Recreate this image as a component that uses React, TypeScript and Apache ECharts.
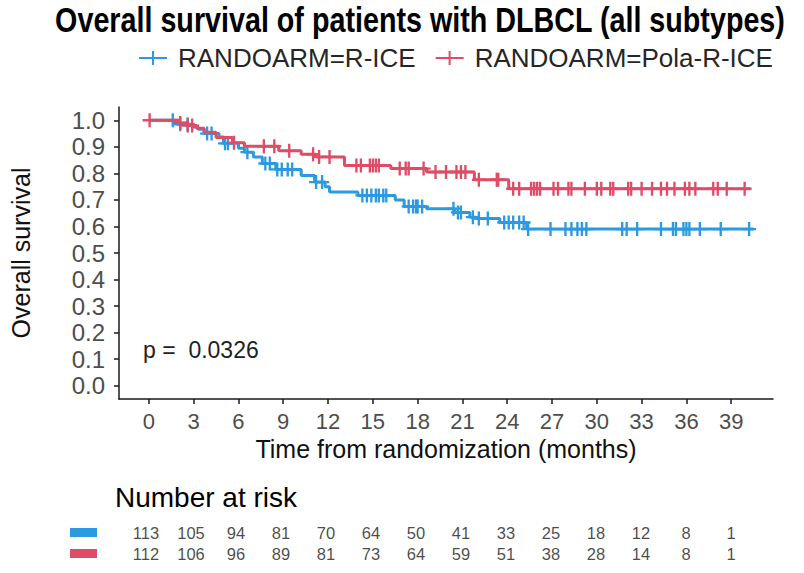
import React, { useEffect, useRef } from "react";
import * as echarts from "echarts";

// ---- data ----
const titleText = "Overall survival of patients with DLBCL (all subtypes)";
const armNames = ["RANDOARM=R-ICE", "RANDOARM=Pola-R-ICE"];
const riskRowNames = ["R-ICE", "Pola-R-ICE"];

// Kaplan-Meier steps: [time (months), survival after event]
const rIceSteps: [number, number][] = [
  [0, 1.0], [1.9, 0.985], [2.9, 0.975], [3.3, 0.966], [3.7, 0.95], [4.7, 0.937],
  [5.0, 0.913], [6.0, 0.895], [6.4, 0.88], [7.0, 0.862], [7.6, 0.837], [8.5, 0.815],
  [10.2, 0.792], [11.1, 0.767], [11.8, 0.75], [12.1, 0.73], [14.0, 0.717], [16.5, 0.7],
  [17.1, 0.675], [18.6, 0.667], [20.5, 0.653], [21.5, 0.635], [21.9, 0.63],
  [23.5, 0.615], [25.3, 0.59], [40.5, 0.59],
];
const polaSteps: [number, number][] = [
  [0, 1.0], [2.0, 0.99], [2.6, 0.98], [3.2, 0.97], [3.7, 0.955], [4.5, 0.935],
  [5.6, 0.915], [6.4, 0.902], [8.7, 0.885], [10.2, 0.872], [11.2, 0.862],
  [13.1, 0.83], [16.2, 0.818], [18.6, 0.805], [21.8, 0.776], [24.1, 0.742],
  [40.3, 0.742],
];

// censoring times
const rIceCensor = [
  1.6, 2.1, 2.6, 3.9, 4.2, 5.1, 5.3, 6.6, 7.8, 8.1, 8.6, 8.9, 9.3, 9.6, 11.2, 11.6,
  14.3, 14.6, 14.9, 15.2, 15.4, 15.7, 15.9, 17.4, 17.7, 17.9, 18.0, 18.3, 20.4, 20.7,
  20.9, 21.7, 22.1, 22.7, 23.8, 24.1, 24.4, 24.8, 25.1, 25.4, 26.9, 27.9, 28.3, 28.7,
  29.0, 29.3, 31.7, 32.0, 32.7, 34.3, 35.1, 35.3, 35.8, 36.0, 36.2, 36.9, 38.3, 40.2,
];
const polaCensor = [
  0.05, 2.1, 2.6, 2.9, 5.7, 7.7, 8.4, 9.4, 11.0, 11.4, 12.1, 13.9, 14.2, 14.8, 15.0,
  15.2, 15.4, 16.8, 17.2, 17.4, 18.4, 19.2, 19.9, 20.6, 20.9, 21.2, 22.1, 23.3, 23.4,
  24.4, 24.8, 25.6, 25.8, 26.0, 26.2, 27.1, 27.4, 28.1, 28.3, 29.2, 30.0, 30.3, 30.9,
  31.1, 32.1, 32.3, 33.0, 33.7, 34.3, 34.7, 35.2, 35.9, 36.2, 36.6, 37.8, 38.1, 38.7,
  39.9,
];

const xTicks = [0, 3, 6, 9, 12, 15, 18, 21, 24, 27, 30, 33, 36, 39];
const yTicks = [0, 0.1, 0.2, 0.3, 0.4, 0.5, 0.6, 0.7, 0.8, 0.9, 1.0];
const riskTimes = [0, 3, 6, 9, 12, 15, 18, 21, 24, 27, 30, 33, 36, 39];
const rIceRisk = [113, 105, 94, 81, 70, 64, 50, 41, 33, 25, 18, 12, 8, 1];
const polaRisk = [112, 106, 96, 89, 81, 73, 64, 59, 51, 38, 28, 14, 8, 1];
const pValueText = "p =  0.0326";

// ---- styles ----
const BLUE = "#2B9AE0";
const RED = "#DE4C65";
const FONT = "Liberation Sans, Arial, sans-serif";
const PLUS =
  "path://M-1,-6L1,-6L1,-1L6,-1L6,1L1,1L1,6L-1,6L-1,1L-6,1L-6,-1L-1,-1Z";
const LEGEND_ICON =
  "path://M0,6L13,6L13,0L15,0L15,6L28,6L28,8L15,8L15,14L13,14L13,8L0,8Z";

function survAt(steps: [number, number][], t: number): number {
  let s = steps[0][1];
  for (const [tt, v] of steps) {
    if (tt <= t) s = v;
    else break;
  }
  return s;
}

export default function App() {
  const ref = useRef<HTMLDivElement>(null);
  useEffect(() => {
    if (!ref.current) return;
    const chart = echarts.init(ref.current, undefined, { renderer: "svg" });
    const X_MIN = -2;
    const X_MAX = 41.8;
    const riskLabel = {
      show: true,
      position: "inside",
      formatter: (p: any) => String(p.value[2]),
      fontSize: 16.5,
      color: "#1a1a1a",
      fontFamily: FONT,
    };
    const option: any = {
      animation: false,
      backgroundColor: "#ffffff",
      textStyle: { fontFamily: FONT },
      legend: {
        left: 134,
        top: 40,
        itemWidth: 30,
        itemHeight: 14,
        itemGap: 20,
        textStyle: {
          fontSize: 26,
          color: "#262626",
          fontFamily: FONT,
          padding: [0, 0, 0, 5],
        },
        data: [
          { name: armNames[0], icon: LEGEND_ICON, itemStyle: { color: BLUE } },
          { name: armNames[1], icon: LEGEND_ICON, itemStyle: { color: RED } },
        ],
      },
      grid: [
        { left: 116, right: 31, top: 107, height: 292 },
        { left: 116, right: 31, top: 522, height: 42 },
      ],
      xAxis: [
        {
          type: "value",
          gridIndex: 0,
          min: X_MIN,
          max: X_MAX,
          splitLine: { show: false },
          axisLine: {
            show: true,
            onZero: false,
            lineStyle: { color: "#1a1a1a", width: 1.5 },
          },
          axisTick: {
            show: true,
            length: 5,
            customValues: xTicks,
            lineStyle: { color: "#1a1a1a", width: 1.5 },
          },
          axisLabel: {
            customValues: xTicks,
            fontSize: 22,
            color: "#4d4d4d",
            margin: 11,
            fontFamily: FONT,
          },
          name: "Time from randomization (months)",
          nameLocation: "middle",
          nameGap: 34,
          nameTextStyle: { fontSize: 25, color: "#111", fontFamily: FONT },
        },
        {
          type: "value",
          gridIndex: 1,
          min: X_MIN,
          max: X_MAX,
          show: false,
        },
      ],
      yAxis: [
        {
          type: "value",
          gridIndex: 0,
          min: -0.05,
          max: 1.05,
          splitLine: { show: false },
          axisLine: {
            show: true,
            onZero: false,
            lineStyle: { color: "#1a1a1a", width: 1.5 },
          },
          axisTick: {
            show: true,
            length: 5,
            customValues: yTicks,
            lineStyle: { color: "#1a1a1a", width: 1.5 },
          },
          axisLabel: {
            customValues: yTicks,
            formatter: (v: number) => v.toFixed(1),
            fontSize: 24,
            color: "#4d4d4d",
            margin: 14,
            fontFamily: FONT,
          },
          name: "Overall survival",
          nameLocation: "middle",
          nameGap: 86,
          nameTextStyle: { fontSize: 25, color: "#111", fontFamily: FONT },
        },
        {
          type: "category",
          gridIndex: 1,
          inverse: true,
          data: riskRowNames,
          axisLine: { show: false },
          axisTick: { show: false },
          axisLabel: {
            margin: 19,
            formatter: (_v: string, i: number) => (i === 0 ? "{b|}" : "{r|}"),
            rich: {
              b: { backgroundColor: BLUE, width: 27, height: 9 },
              r: { backgroundColor: RED, width: 27, height: 9 },
            },
          },
        },
      ],
      graphic: [
        {
          type: "text",
          x: 420,
          y: 20,
          scaleX: 0.82,
          style: {
            text: titleText,
            font: `bold 35px ${FONT}`,
            fill: "#000",
            textAlign: "center",
            textVerticalAlign: "middle",
          },
        },
        {
          type: "text",
          x: 143,
          y: 350,
          style: {
            text: pValueText,
            font: `23px ${FONT}`,
            fill: "#222",
            textAlign: "left",
            textVerticalAlign: "middle",
          },
        },
        {
          type: "text",
          x: 115,
          y: 497,
          style: {
            text: "Number at risk",
            font: `28px ${FONT}`,
            fill: "#000",
            textAlign: "left",
            textVerticalAlign: "middle",
          },
        },
      ],
      series: [
        {
          name: armNames[0],
          type: "line",
          step: "end",
          xAxisIndex: 0,
          yAxisIndex: 0,
          symbol: "none",
          lineStyle: { color: BLUE, width: 3 },
          itemStyle: { color: BLUE },
          data: rIceSteps,
          z: 3,
        },
        {
          name: armNames[1],
          type: "line",
          step: "end",
          xAxisIndex: 0,
          yAxisIndex: 0,
          symbol: "none",
          lineStyle: { color: RED, width: 3 },
          itemStyle: { color: RED },
          data: polaSteps,
          z: 4,
        },
        {
          name: armNames[0],
          type: "scatter",
          xAxisIndex: 0,
          yAxisIndex: 0,
          symbol: PLUS,
          symbolSize: 14,
          itemStyle: { color: BLUE, opacity: 1 },
          data: rIceCensor.map((t) => [t, survAt(rIceSteps, t)]),
          z: 3,
        },
        {
          name: armNames[1],
          type: "scatter",
          xAxisIndex: 0,
          yAxisIndex: 0,
          symbol: PLUS,
          symbolSize: 14,
          itemStyle: { color: RED, opacity: 1 },
          data: polaCensor.map((t) => [t, survAt(polaSteps, t)]),
          z: 4,
        },
        {
          type: "scatter",
          xAxisIndex: 1,
          yAxisIndex: 1,
          symbolSize: 1,
          itemStyle: { color: "transparent" },
          label: riskLabel,
          data: riskTimes.map((t, i) => [t, riskRowNames[0], rIceRisk[i]]),
        },
        {
          type: "scatter",
          xAxisIndex: 1,
          yAxisIndex: 1,
          symbolSize: 1,
          itemStyle: { color: "transparent" },
          label: riskLabel,
          data: riskTimes.map((t, i) => [t, riskRowNames[1], polaRisk[i]]),
        },
      ],
    };
    chart.setOption(option);
    return () => chart.dispose();
  }, []);
  return (
    <div
      ref={ref}
      style={{ position: "fixed", left: 0, top: 0, width: 804, height: 573 }}
    />
  );
}
